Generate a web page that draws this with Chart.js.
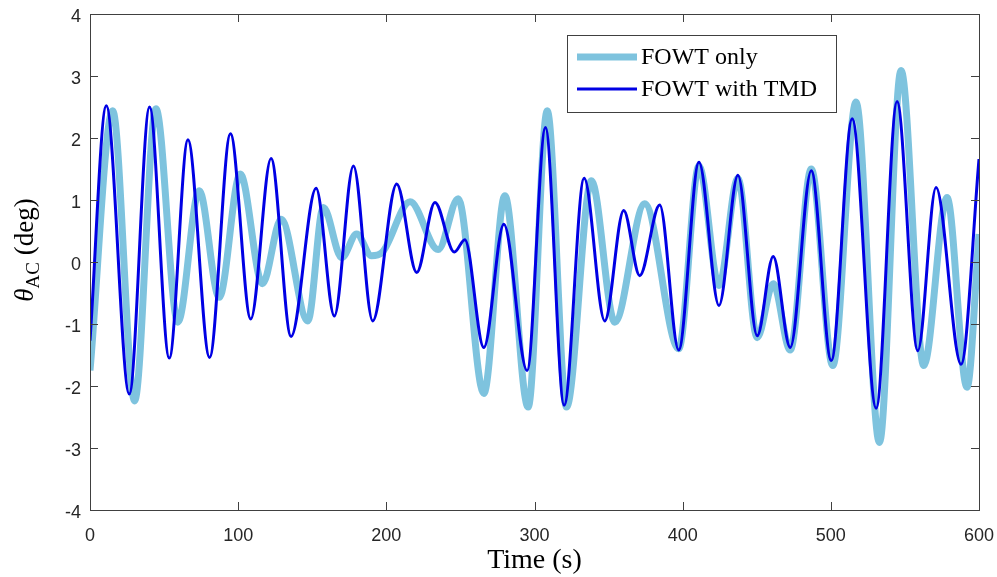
<!DOCTYPE html>
<html>
<head>
<meta charset="utf-8">
<script src="https://cdn.jsdelivr.net/npm/chart.js@4.4.0/dist/chart.umd.min.js"></script>
<style>
  html, body { margin: 0; padding: 0; background: #fff; }
  #wrap { width: 997px; height: 577px; }
</style>
</head>
<body>
<div id="wrap"><canvas id="chartTheta" width="997" height="577"></canvas></div>
<script>
// time samples (s) and angle values (deg)
const timeFowt = [0, 15.3, 30.1, 44.5, 59.3, 73.7, 87.2, 101.4, 116.4, 129, 147, 157.5, 169.9, 180, 190, 197,
  216, 235, 248.5, 265.8, 280, 295.7, 308.6, 321.6, 338.4, 354.2, 374.4, 397.3, 411, 424.5, 437.3, 450.3,
  461.1, 472.6, 486.8, 501.3, 517, 532.8, 547.4, 562.7, 578.4, 591.9, 600];
const fowtOnly = [-1.75, 2.44, -2.24, 2.47, -0.97, 1.15, -0.57, 1.42, -0.35, 0.69, -0.95, 0.88, 0.07, 0.45, 0.1, 0.15,
  0.97, 0.2, 1.02, -2.12, 1.07, -2.34, 2.44, -2.34, 1.31, -0.97, 0.94, -1.4, 1.55, -0.38, 1.35, -1.22,
  -0.35, -1.42, 1.5, -1.67, 2.58, -2.91, 3.09, -1.67, 1.04, -2.02, 0.45];

const timeTmd = [0, 11, 26.5, 40.2, 53.5, 66.1, 80.7, 94.8, 108.5, 122.2, 135.7, 152.6, 164.9, 177.8, 190.8,
  207, 220.5, 232.8, 245.9, 253, 265.8, 279.3, 295, 307.4, 320, 333.5, 347.4, 360.2, 371, 384.5, 397.3,
  411, 424.5, 437.3, 450.3, 461.1, 472.6, 486.8, 500.3, 514.4, 530.6, 544.7, 558.7, 571, 587.9, 600];
const fowtTmd = [-1.27, 2.52, -2.13, 2.5, -1.55, 1.97, -1.54, 2.07, -0.92, 1.67, -1.2, 1.19, -0.87, 1.55, -0.95,
  1.26, -0.17, 0.96, 0.16, 0.36, -1.38, 0.61, -1.75, 2.17, -2.31, 1.35, -0.95, 0.83, -0.22, 0.92, -1.42,
  1.61, -0.7, 1.4, -1.19, 0.09, -1.38, 1.47, -1.59, 2.31, -2.36, 2.59, -1.43, 1.2, -1.65, 1.66];

const xTicks = [0, 100, 200, 300, 400, 500, 600];
const yTicks = [-4, -3, -2, -1, 0, 1, 2, 3, 4];
const seriesNames = ["FOWT only", "FOWT with TMD"];

const LIGHT = "rgb(126,195,222)";
const DARK = "rgb(0,0,228)";
const AXIS = "#404040";

// box around the axes + inward ticks on every side
const boxPlugin = {
  id: "box",
  afterDraw(chart) {
    const { ctx, chartArea: a, scales } = chart;
    const len = 8;
    ctx.save();
    ctx.strokeStyle = AXIS;
    ctx.lineWidth = 1;
    ctx.beginPath();
    xTicks.forEach(v => {
      const px = Math.round(scales.x.getPixelForValue(v)) + 0.5;
      ctx.moveTo(px, a.bottom); ctx.lineTo(px, a.bottom - len);
      ctx.moveTo(px, a.top); ctx.lineTo(px, a.top + len);
    });
    yTicks.forEach(v => {
      const py = Math.round(scales.y.getPixelForValue(v)) + 0.5;
      ctx.moveTo(a.left, py); ctx.lineTo(a.left + len, py);
      ctx.moveTo(a.right, py); ctx.lineTo(a.right - len, py);
    });
    ctx.stroke();
    ctx.strokeRect(Math.round(a.left) + 0.5, Math.round(a.top) + 0.5,
      Math.round(a.right - a.left), Math.round(a.bottom - a.top));
    ctx.restore();
  }
};

// legend box inside the plot, top right
const legendPlugin = {
  id: "legendBox",
  afterDraw(chart) {
    const { ctx } = chart;
    const x0 = 567, y0 = 35, w = 269, h = 77;
    ctx.save();
    ctx.fillStyle = "#fff";
    ctx.fillRect(x0, y0, w, h);
    ctx.strokeStyle = AXIS;
    ctx.lineWidth = 1;
    ctx.strokeRect(x0 + 0.5, y0 + 0.5, w, h);
    const rows = [
      { name: seriesNames[0], color: LIGHT, width: 7, y: y0 + 22 },
      { name: seriesNames[1], color: DARK, width: 3, y: y0 + 54 }
    ];
    ctx.font = "24px 'Liberation Serif', serif";
    ctx.textBaseline = "middle";
    rows.forEach(r => {
      ctx.strokeStyle = r.color;
      ctx.lineWidth = r.width;
      ctx.beginPath();
      ctx.moveTo(x0 + 10, r.y);
      ctx.lineTo(x0 + 70, r.y);
      ctx.stroke();
      ctx.fillStyle = "#000";
      ctx.fillText(r.name, x0 + 74, r.y + 1);
    });
    ctx.restore();
  }
};

// y title with subscript: θ_AC (deg)
const yTitlePlugin = {
  id: "yTitle",
  afterDraw(chart) {
    const { ctx } = chart;
    const big = "27px 'Liberation Serif', serif";
    const bigIt = "italic 27px 'Liberation Serif', serif";
    const small = "19px 'Liberation Serif', serif";
    const parts = [
      { t: "θ", f: bigIt, dy: 0 },
      { t: "AC", f: small, dy: 6 },
      { t: " (deg)", f: big, dy: 0 }
    ];
    ctx.save();
    let total = 0;
    parts.forEach(p => { ctx.font = p.f; p.w = ctx.measureText(p.t).width; total += p.w; });
    ctx.translate(33, 250);
    ctx.rotate(-Math.PI / 2);
    ctx.fillStyle = "#000";
    ctx.textBaseline = "alphabetic";
    let x = -total / 2;
    parts.forEach(p => {
      ctx.font = p.f;
      ctx.fillText(p.t, x, p.dy);
      x += p.w;
    });
    ctx.restore();
  }
};

const toPoints = (ts, vs) => ts.map((t, i) => ({ x: t, y: vs[i] }));

new Chart(document.getElementById("chartTheta"), {
  type: "line",
  data: {
    datasets: [
      {
        label: seriesNames[0],
        data: toPoints(timeFowt, fowtOnly),
        borderColor: LIGHT,
        borderWidth: 7,
        cubicInterpolationMode: "monotone",
        pointRadius: 0,
        fill: false,
        order: 1
      },
      {
        label: seriesNames[1],
        data: toPoints(timeTmd, fowtTmd),
        borderColor: DARK,
        borderWidth: 3,
        cubicInterpolationMode: "monotone",
        pointRadius: 0,
        fill: false,
        order: 0
      }
    ]
  },
  options: {
    responsive: false,
    animation: false,
    devicePixelRatio: 1,
    layout: { padding: { top: 14, right: 18, left: 0, bottom: 0 } },
    plugins: {
      legend: { display: false },
      tooltip: { enabled: false }
    },
    scales: {
      x: {
        type: "linear",
        min: 0,
        max: 600,
        afterBuildTicks: s => { s.ticks = xTicks.map(v => ({ value: v })); },
        afterFit: s => { s.height = 67; s.paddingLeft = 0; s.paddingRight = 0; },
        grid: { display: false, drawTicks: false },
        border: { display: false },
        ticks: {
          padding: 15,
          color: "#262626",
          font: { family: "'Liberation Sans', Arial, sans-serif", size: 18 }
        },
        title: {
          display: true,
          text: "Time (s)",
          color: "#000",
          font: { family: "'Liberation Serif', serif", size: 28 },
          padding: { top: 0, bottom: 0 }
        }
      },
      y: {
        type: "linear",
        min: -4,
        max: 4,
        afterBuildTicks: s => { s.ticks = yTicks.map(v => ({ value: v })); },
        afterFit: s => { s.width = 90; s.paddingTop = 0; s.paddingBottom = 0; },
        grid: { display: false, drawTicks: false },
        border: { display: false },
        ticks: {
          padding: 9,
          labelOffset: 3,
          color: "#262626",
          font: { family: "'Liberation Sans', Arial, sans-serif", size: 18 }
        }
      }
    }
  },
  plugins: [boxPlugin, legendPlugin, yTitlePlugin]
});
</script>
</body>
</html>
